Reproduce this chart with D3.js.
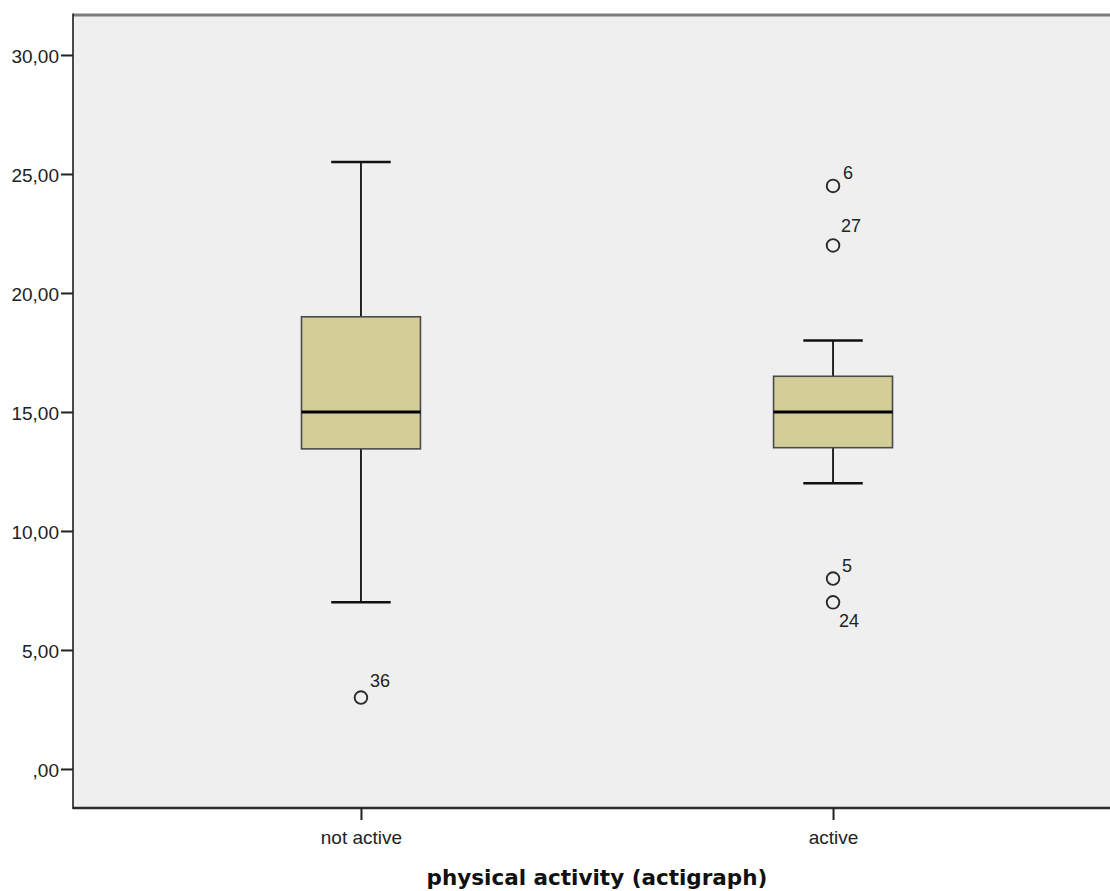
<!DOCTYPE html>
<html>
<head>
<meta charset="utf-8">
<script src="https://cdn.jsdelivr.net/npm/d3@7"></script>
<style>
  html, body { margin: 0; padding: 0; background: #ffffff; }
  svg { display: block; }
</style>
</head>
<body>
<svg id="chart" width="1110" height="891"></svg>
<script>
// ---- data ----
const categories = ["not active", "active"];
const whiskerLow  = [7, 12];
const q1          = [13.45, 13.5];
const medians     = [15, 15];
const q3          = [19, 16.5];
const whiskerHigh = [25.5, 18];
const outlierCategory = ["not active", "active", "active", "active", "active"];
const outlierValues   = [3, 24.5, 22, 8, 7];
const outlierIds      = ["36", "6", "27", "5", "24"];
const yTicks = [0, 5, 10, 15, 20, 25, 30];
const xTitle = "physical activity (actigraph)";

// label placement (style): dx, dy of the case-number baseline relative to the circle
const labelPlacement = [[9, -11], [10, -7], [8, -13], [9, -7], [6, 25]];

// ---- layout ----
const svg = d3.select("#chart");
const plot = { left: 73, right: 1121, top: 15, bottom: 808 };

const x = d3.scalePoint()
  .domain(categories)
  .range([plot.left, plot.right])
  .padding(0.61);

const y = d3.scaleLinear()
  .domain([-1.64, 31.68])
  .range([plot.bottom, plot.top]);

const boxW = x.step() * 0.252;
const capW = boxW / 2;

// plot background
svg.append("rect")
  .attr("x", plot.left).attr("y", plot.top)
  .attr("width", plot.right - plot.left)
  .attr("height", plot.bottom - plot.top)
  .attr("fill", "#efefef");

// frame lines
svg.append("line")
  .attr("x1", plot.left).attr("x2", plot.right)
  .attr("y1", plot.top).attr("y2", plot.top)
  .attr("stroke", "#7c7c7c").attr("stroke-width", 3);
svg.append("line")
  .attr("x1", plot.left).attr("x2", plot.right)
  .attr("y1", plot.bottom).attr("y2", plot.bottom)
  .attr("stroke", "#2e2e2e").attr("stroke-width", 2.5);
svg.append("line")
  .attr("x1", plot.left).attr("x2", plot.left)
  .attr("y1", plot.top - 1.5).attr("y2", plot.bottom + 1)
  .attr("stroke", "#1e1e1e").attr("stroke-width", 1.6);

// y axis
const yAxis = d3.axisLeft(y)
  .tickValues(yTicks)
  .tickSize(12)
  .tickPadding(2)
  .tickFormat(d => d === 0 ? ",00" : d3.format(".2f")(d).replace(".", ","));
const gy = svg.append("g")
  .attr("transform", `translate(${plot.left},0)`)
  .call(yAxis);
gy.select(".domain").remove();
gy.selectAll(".tick line").attr("stroke", "#222").attr("stroke-width", 2);
gy.selectAll(".tick text")
  .attr("font-family", "'Liberation Sans', Arial, sans-serif")
  .attr("font-size", 19)
  .attr("fill", "#222")
  .attr("dy", "0.4em");

// x axis
const xAxis = d3.axisBottom(x).tickSize(12).tickPadding(6);
const gx = svg.append("g")
  .attr("transform", `translate(0,${plot.bottom})`)
  .call(xAxis);
gx.select(".domain").remove();
gx.selectAll(".tick line").attr("stroke", "#222").attr("stroke-width", 2);
gx.selectAll(".tick text")
  .attr("font-family", "'Liberation Sans', Arial, sans-serif")
  .attr("font-size", 19)
  .attr("fill", "#222")
  .attr("dy", "0.95em");

// x title
svg.append("text")
  .attr("x", (plot.left + plot.right) / 2)
  .attr("y", 885)
  .attr("text-anchor", "middle")
  .attr("font-family", "'DejaVu Sans', sans-serif")
  .attr("font-weight", "bold")
  .attr("font-size", 21.5)
  .attr("fill", "#111")
  .text(xTitle);

// boxes
const stats = categories.map((c, i) => ({
  c, lo: whiskerLow[i], q1: q1[i], med: medians[i], q3: q3[i], hi: whiskerHigh[i]
}));

const g = svg.append("g");
stats.forEach(s => {
  const cx = x(s.c);
  // whiskers
  g.append("line")
    .attr("x1", cx).attr("x2", cx)
    .attr("y1", y(s.hi)).attr("y2", y(s.q3))
    .attr("stroke", "#111").attr("stroke-width", 1.8);
  g.append("line")
    .attr("x1", cx).attr("x2", cx)
    .attr("y1", y(s.q1)).attr("y2", y(s.lo))
    .attr("stroke", "#111").attr("stroke-width", 1.8);
  // caps
  [s.hi, s.lo].forEach(v => {
    g.append("line")
      .attr("x1", cx - capW / 2).attr("x2", cx + capW / 2)
      .attr("y1", y(v)).attr("y2", y(v))
      .attr("stroke", "#111").attr("stroke-width", 2.5);
  });
  // box
  g.append("rect")
    .attr("x", cx - boxW / 2)
    .attr("y", y(s.q3))
    .attr("width", boxW)
    .attr("height", y(s.q1) - y(s.q3))
    .attr("fill", "#d3ce98")
    .attr("stroke", "#4a4a4a")
    .attr("stroke-width", 1.6);
  // median
  g.append("line")
    .attr("x1", cx - boxW / 2).attr("x2", cx + boxW / 2)
    .attr("y1", y(s.med)).attr("y2", y(s.med))
    .attr("stroke", "#000").attr("stroke-width", 3.2);
});

// outliers
outlierValues.forEach((v, i) => {
  const cx = x(outlierCategory[i]);
  const cy = y(v);
  g.append("circle")
    .attr("cx", cx).attr("cy", cy).attr("r", 6.3)
    .attr("fill", "none")
    .attr("stroke", "#2a2a2a")
    .attr("stroke-width", 1.9);
  g.append("text")
    .attr("x", cx + labelPlacement[i][0])
    .attr("y", cy + labelPlacement[i][1])
    .attr("font-family", "'Liberation Sans', Arial, sans-serif")
    .attr("font-size", 18)
    .attr("fill", "#222")
    .text(outlierIds[i]);
});
</script>
</body>
</html>
